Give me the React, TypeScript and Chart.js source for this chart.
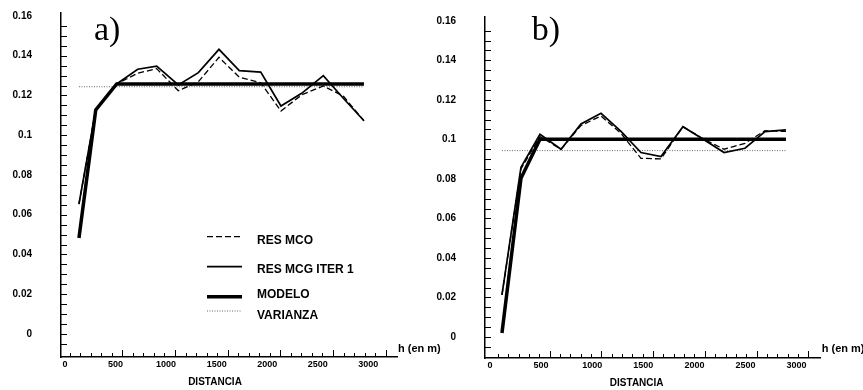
import React, { useEffect, useRef } from 'react';
import { Chart, registerables } from 'chart.js';
Chart.register(...registerables);

// ---------- DATA ----------
const lagsA = [138, 304, 511, 719, 907, 1121, 1319, 1523, 1724, 1936, 2136, 2341, 2555, 2753, 2957];
const mcoA = [0.0654, 0.1127, 0.1258, 0.1312, 0.1335, 0.1224, 0.1269, 0.1392, 0.1292, 0.1264, 0.1122, 0.1203, 0.1248, 0.1197, 0.1073];
const mcgA = [0.0654, 0.1127, 0.1258, 0.1332, 0.1348, 0.1253, 0.1315, 0.1432, 0.1325, 0.1318, 0.1147, 0.1211, 0.13, 0.1186, 0.1073];
const modeloA = [0.0483, 0.1127, 0.1258, 0.1258, 0.1258, 0.1258, 0.1258, 0.1258, 0.1258, 0.1258, 0.1258, 0.1258, 0.1258, 0.1258, 0.1258];
const varianzaA = 0.1244;

const lagsB = [117, 303, 489, 695, 890, 1086, 1282, 1477, 1673, 1888, 2094, 2290, 2495, 2691, 2896];
const mcoB = [0.0213, 0.085, 0.1014, 0.095, 0.107, 0.1118, 0.103, 0.0904, 0.0901, 0.1064, 0.1, 0.095, 0.098, 0.1044, 0.104];
const mcgB = [0.0213, 0.0859, 0.1026, 0.095, 0.1078, 0.1132, 0.104, 0.0933, 0.0913, 0.1064, 0.0998, 0.0933, 0.0955, 0.1039, 0.1048];
const modeloB = [0.002, 0.0803, 0.1, 0.1, 0.1, 0.1, 0.1, 0.1, 0.1, 0.1, 0.1, 0.1, 0.1, 0.1, 0.1];
const varianzaB = 0.0943;

const xTickValues = [0, 500, 1000, 1500, 2000, 2500, 3000];
const yTickValues = [0, 0.02, 0.04, 0.06, 0.08, 0.1, 0.12, 0.14, 0.16];
const seriesLabels = ['RES MCO', 'RES MCG ITER 1', 'MODELO', 'VARIANZA'];
const panelLetters = ['a)', 'b)'];
const xTitle = 'DISTANCIA';
const unitLabel = 'h (en m)';

// ---------- LAYOUT ----------
const SANS = '"Liberation Sans", Arial, Helvetica, sans-serif';
const SERIF = '"Liberation Serif", "Times New Roman", serif';

type Spec = {
  pageLeft: number;
  width: number;
  height: number;
  area: { left: number; right: number; top: number; bottom: number };
  xRange: [number, number];
  yRange: [number, number];
  lags: number[];
  mco: number[];
  mcg: number[];
  modelo: number[];
  varianza: number;
  letter: string;
  letterPos: [number, number];
  unitPos: [number, number];
  titlePos: [number, number];
  markStart: number;
  markStep: number;
  legend: boolean;
};

const specs: Spec[] = [
  {
    pageLeft: 0, width: 450, height: 390,
    area: { left: 61, right: 397, top: 13, bottom: 357 },
    xRange: [-39.6, 3284], yRange: [-0.01157, 0.1615],
    lags: lagsA, mco: mcoA, mcg: mcgA, modelo: modeloA, varianza: varianzaA,
    letter: panelLetters[0], letterPos: [94, 40], unitPos: [398, 349], titlePos: [215, 382],
    markStart: 46, markStep: 104.2, legend: true,
  },
  {
    pageLeft: 430, width: 433, height: 390,
    area: { left: 55, right: 390, top: 17, bottom: 358 },
    xRange: [-49, 3229], yRange: [-0.01063, 0.1619],
    lags: lagsB, mco: mcoB, mcg: mcgB, modelo: modeloB, varianza: varianzaB,
    letter: panelLetters[1], letterPos: [101.7, 40], unitPos: [391.7, 349], titlePos: [206.7, 383],
    markStart: 78, markStep: 101.2, legend: false,
  },
];

function makeDecor(spec: Spec) {
  return {
    id: 'decor',
    afterDraw(chart: any) {
      const ctx = chart.ctx as CanvasRenderingContext2D;
      const xs = chart.scales.x;
      const ys = chart.scales.y;
      const ca = chart.chartArea;
      ctx.save();
      ctx.strokeStyle = '#000';
      ctx.lineWidth = 1;
      // y tick marks (inward)
      for (let k = -1; k <= 31; k++) {
        const v = k * 0.005;
        const py = Math.round(ys.getPixelForValue(v)) + 0.5;
        if (py < ca.top + 4 || py > ca.bottom - 2) continue;
        ctx.beginPath();
        ctx.moveTo(ca.left, py);
        ctx.lineTo(ca.left + 6, py);
        ctx.stroke();
      }
      // x tick marks (inward)
      for (let k = 0; k <= 30; k++) {
        const h = spec.markStart + spec.markStep * k;
        const px = Math.round(xs.getPixelForValue(h)) + 0.5;
        const len = k > 0 && k % 5 === 0 ? 7 : 4;
        ctx.beginPath();
        ctx.moveTo(px, ca.bottom);
        ctx.lineTo(px, ca.bottom - len);
        ctx.stroke();
      }
      // texts
      ctx.fillStyle = '#000';
      ctx.font = `34px ${SERIF}`;
      ctx.textAlign = 'left';
      ctx.textBaseline = 'alphabetic';
      ctx.fillText(spec.letter, spec.letterPos[0], spec.letterPos[1]);
      ctx.font = `bold 11px ${SANS}`;
      ctx.textBaseline = 'middle';
      ctx.fillText(unitLabel, spec.unitPos[0], spec.unitPos[1]);
      ctx.font = `bold 10px ${SANS}`;
      ctx.textAlign = 'center';
      ctx.fillText(xTitle, spec.titlePos[0], spec.titlePos[1]);
      // legend
      if (spec.legend) {
        const rows = [
          [236.7, 241],
          [266.7, 270],
          [296.7, 294.3],
          [311, 316],
        ];
        const x0 = 207, x1 = 242, tx = 257;
        chart.data.datasets.forEach((ds: any, i: number) => {
          const r = rows[i];
          if (!r) return;
          ctx.setLineDash(ds.borderDash || []);
          ctx.lineWidth = ds.borderWidth;
          ctx.strokeStyle = ds.borderColor;
          ctx.beginPath();
          ctx.moveTo(x0, r[0]);
          ctx.lineTo(x1, r[0]);
          ctx.stroke();
          ctx.setLineDash([]);
          ctx.fillStyle = '#000';
          ctx.font = `bold 12px ${SANS}`;
          ctx.textAlign = 'left';
          ctx.textBaseline = 'middle';
          ctx.fillText(ds.label, tx, r[1]);
        });
      }
      ctx.restore();
    },
  };
}

function Panel({ spec }: { spec: Spec }) {
  const ref = useRef<HTMLCanvasElement | null>(null);
  useEffect(() => {
    if (!ref.current) return;
    const pts = (ys: number[]) => spec.lags.map((x, i) => ({ x, y: ys[i] }));
    const first = spec.lags[0];
    const last = spec.lags[spec.lags.length - 1];
    const chart = new Chart(ref.current, {
      type: 'line',
      data: {
        datasets: [
          { label: seriesLabels[0], data: pts(spec.mco), borderColor: '#000', borderWidth: 1.3, borderDash: [6, 3], pointRadius: 0, tension: 0, fill: false },
          { label: seriesLabels[1], data: pts(spec.mcg), borderColor: '#000', borderWidth: 1.7, pointRadius: 0, tension: 0, fill: false },
          { label: seriesLabels[2], data: pts(spec.modelo), borderColor: '#000', borderWidth: 3.5, pointRadius: 0, tension: 0, fill: false },
          { label: seriesLabels[3], data: [{ x: first, y: spec.varianza }, { x: last, y: spec.varianza }], borderColor: '#666', borderWidth: 1, borderDash: [1, 1.5], pointRadius: 0, tension: 0, fill: false },
        ],
      } as any,
      options: {
        responsive: false,
        animation: false,
        devicePixelRatio: 1,
        events: [],
        layout: { padding: { left: 0, top: spec.area.top, right: spec.width - spec.area.right, bottom: 0 } },
        plugins: { legend: { display: false }, tooltip: { enabled: false } },
        scales: {
          x: {
            type: 'linear',
            min: spec.xRange[0],
            max: spec.xRange[1],
            grid: { display: false, drawTicks: false },
            border: { display: true, color: '#000', width: 1.5 },
            afterBuildTicks: (s: any) => { s.ticks = xTickValues.map((v) => ({ value: v })); },
            afterFit: (s: any) => { s.height = spec.height - spec.area.bottom; s.paddingLeft = 0; s.paddingRight = 0; },
            ticks: {
              padding: 2,
              autoSkip: false,
              maxRotation: 0,
              color: '#000',
              font: { family: SANS, size: 9, weight: 'bold' },
              callback: (v: any) => String(v),
            },
          },
          y: {
            type: 'linear',
            min: spec.yRange[0],
            max: spec.yRange[1],
            grid: { display: false, drawTicks: false },
            border: { display: true, color: '#000', width: 1.5 },
            afterBuildTicks: (s: any) => { s.ticks = yTickValues.map((v) => ({ value: v })); },
            afterFit: (s: any) => { s.width = spec.area.left; s.paddingTop = 0; s.paddingBottom = 0; },
            ticks: {
              padding: 29,
              autoSkip: false,
              color: '#000',
              font: { family: SANS, size: 10, weight: 'bold' },
              callback: (v: any) => String(Number(Number(v).toFixed(3))),
            },
          },
        },
      } as any,
      plugins: [makeDecor(spec)],
    });
    return () => chart.destroy();
  }, [spec]);
  return (
    <canvas
      ref={ref}
      width={spec.width}
      height={spec.height}
      style={{ position: 'absolute', left: spec.pageLeft, top: 0, width: spec.width, height: spec.height }}
    />
  );
}

export default function App() {
  return (
    <div style={{ position: 'fixed', left: 0, top: 0, width: 863, height: 390, background: '#fff', overflow: 'hidden' }}>
      {specs.map((s, i) => (
        <Panel key={i} spec={s} />
      ))}
    </div>
  );
}
